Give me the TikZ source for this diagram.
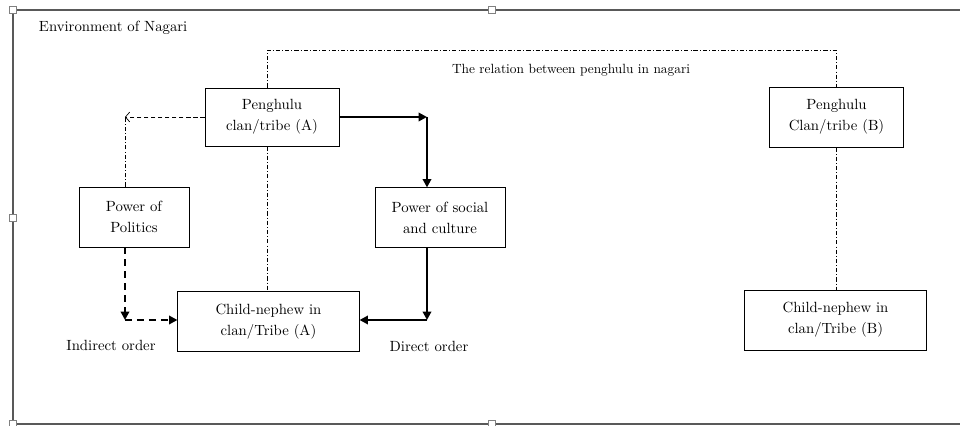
\documentclass[tikz,border=0pt]{standalone}
\usetikzlibrary{arrows.meta}
\begin{document}
\begin{tikzpicture}[x=0.025cm,y=-0.025cm,
  box/.style={draw,line width=0.6pt,align=center,inner sep=0pt,font=\fontsize{10.5}{15}\selectfont},
  lbl/.style={font=\fontsize{10.5}{13}\selectfont},
  relline/.style={line width=0.4pt,dash pattern=on 3pt off 1.5pt on 0.6pt off 1.5pt},
  thinarrow/.style={line width=0.5pt,dash pattern=on 3pt off 2pt,-{Straight Barb[length=3pt,width=7pt]}},
  thickarrow/.style={line width=1.6pt,-{Triangle[length=6pt,width=6pt]}},
  thickdash/.style={line width=1.6pt,dash pattern=on 5pt off 3.5pt,-{Triangle[length=6pt,width=6pt]}},
  handle/.style={draw=gray,fill=white,line width=0.4pt,minimum size=5pt,inner sep=0pt}]
%\draw[help lines, color=gray!30] (0,0) grid[step=50] (960,426);
\useasboundingbox (0,0) rectangle (960,426);

% frame of the nagari
\draw[gray!70!black,line width=1.1pt] (962,10) -- (13,10) -- (13,424) -- (962,424);
\node[handle] (h1) at (13,10) {};
\node[handle] (h2) at (492,10) {};
\node[handle] (h3) at (13,218) {};
\node[handle] (h4) at (13,424) {};
\node[handle] (h5) at (492,424) {};

\node[lbl,anchor=west] (env) at (34,28) {Environment of Nagari};
\node[font=\fontsize{9.5}{12}\selectfont] (rel) at (571,70) {The relation between penghulu in nagari};

% boxes
\node[box,minimum width=3.35cm,minimum height=1.45cm] (pa) at (272,117) {Penghulu\\clan/tribe (A)};
\node[box,minimum width=3.33cm,minimum height=1.5cm] (pb) at (836.5,117) {Penghulu\\Clan/tribe (B)};
\node[box,minimum width=2.75cm,minimum height=1.5cm] (pol) at (134,217) {Power of\\Politics};
\node[box,minimum width=3.25cm,minimum height=1.48cm] (soc) at (440,217.5) {Power of social\\and culture};
\node[box,minimum width=4.53cm,minimum height=1.48cm] (cha) at (268.5,321.5) {Child-nephew in\\clan/Tribe (A)};
\node[box,minimum width=4.53cm,minimum height=1.5cm] (chb) at (835.5,320) {Child-nephew in\\clan/Tribe (B)};

\node[lbl] (ind) at (111,345) {Indirect order};
\node[lbl] (dir) at (429,346) {Direct order};

% relation between penghulu
\coordinate (ra) at (267,50);
\coordinate (rb) at (836,50);
\draw[relline] (ra |- pa.north) -- (ra) -- (rb) -- (rb |- pb.north);
\draw[relline] (ra |- pa.south) -- (ra |- cha.north);
\draw[relline] (rb |- pb.south) -- (rb |- chb.north);

% politics
\coordinate (pc) at (125,117);
\coordinate (pd) at (125,320);
\draw[thinarrow] (pa.west) -- (pc);
\draw[relline] (pol.north -| pc) -- (pc);
\draw[thickdash] (pol.south -| pd) -- (pd);
\draw[thickdash] (pd) -- (cha.west |- pd);

% social and culture
\coordinate (sc) at (427,117);
\coordinate (sd) at (427,320);
\draw[thickarrow] (pa.east) -- (sc);
\draw[thickarrow] (sc) -- (soc.north -| sc);
\draw[thickarrow] (soc.south -| sd) -- (sd);
\draw[thickarrow] (sd) -- (cha.east |- sd);

\end{tikzpicture}
\end{document}
